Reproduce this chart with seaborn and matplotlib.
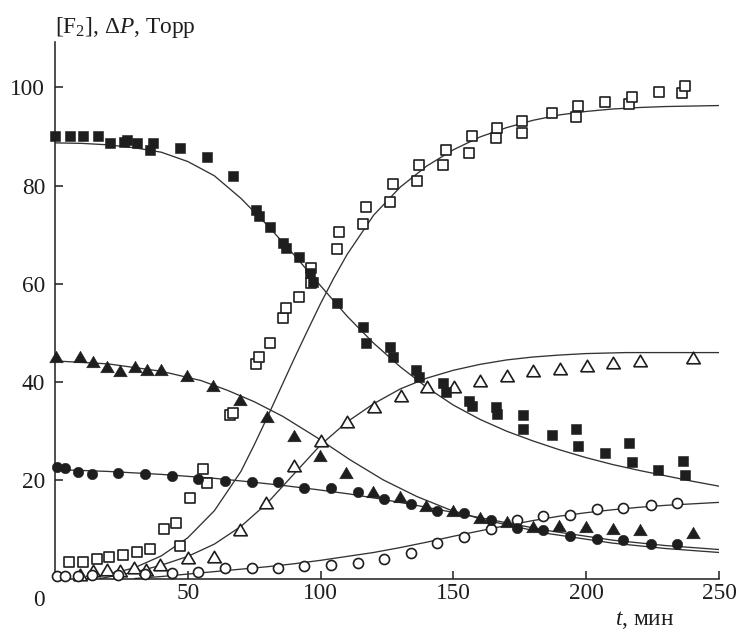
import numpy as np
import pandas as pd
import matplotlib
matplotlib.use("Agg")
import matplotlib.pyplot as plt
import seaborn as sns

# ---------------- data ----------------
# filled squares: [F2]
sqf_t = [0, 5.5, 10.4, 16.1, 20.6, 25.9, 27.0, 30.8, 35.7, 36.8, 47.0, 57.1, 66.9, 75.6, 76.7,
         80.9, 85.8, 86.9, 91.8, 95.9, 97.1, 106.1, 115.9, 117.0, 126.1, 127.2, 135.9, 137.0, 146.0, 147.1,
         155.8, 156.9, 166.0, 166.4, 176.2, 176.2, 187.1, 196.3, 196.9, 207.1, 216.1, 217.2, 227.0, 236.4, 237.2]
sqf_y = [90.1, 90.1, 90.1, 90.1, 88.7, 88.9, 89.3, 88.7, 87.3, 88.7, 87.7, 85.9, 82.0, 75.1, 73.9,
         71.6, 68.4, 67.3, 65.5, 62.3, 60.4, 56.1, 51.3, 48.0, 47.2, 45.0, 42.5, 41.1, 39.9, 38.0,
         36.2, 35.2, 35.0, 33.4, 33.2, 30.5, 29.3, 30.5, 26.9, 25.6, 27.5, 23.8, 22.0, 23.9, 21.0]

# open squares: dP
sqo_t = [5.2, 10.4, 15.7, 20.2, 25.5, 30.8, 35.7, 40.9, 45.5, 47.0, 50.8, 55.6, 57.1, 65.8, 66.9,
         75.6, 76.7, 80.9, 85.8, 87.0, 91.8, 96.3, 96.3, 106.1, 106.9, 115.9, 117.0, 126.1, 127.2, 136.2,
         137.0, 146.0, 147.1, 155.8, 156.9, 166.0, 166.4, 175.8, 175.8, 187.1, 196.1, 196.9, 207.1, 216.1, 217.2,
         227.4, 236.1, 237.2]
sqo_y = [3.3, 3.3, 3.9, 4.3, 4.7, 5.3, 6.1, 10.0, 11.4, 6.7, 16.3, 22.2, 19.5, 33.2, 33.6,
         43.7, 45.2, 48.0, 53.1, 55.1, 57.3, 63.3, 60.2, 67.1, 70.6, 72.2, 75.7, 76.7, 80.4, 81.0,
         84.2, 84.2, 87.3, 86.7, 90.1, 89.7, 91.8, 93.2, 90.7, 94.8, 94.0, 96.2, 97.0, 96.6, 98.1,
         99.1, 98.9, 100.3]

# filled triangles
trf_t = [0.5, 9.6, 14.3, 19.6, 24.6, 30.0, 34.7, 39.8, 49.7, 59.5, 69.8, 79.8, 89.9, 99.7,
         109.7, 119.8, 129.8, 139.6, 149.7, 160.0, 170.0, 179.8, 189.8, 199.9, 210.2, 220.2, 240.3]
trf_y = [45.1, 45.1, 44.0, 43.1, 42.2, 43.1, 42.4, 42.4, 41.3, 39.1, 36.4, 32.9, 29.0, 25.0,
         21.4, 17.6, 16.5, 14.7, 13.7, 12.3, 11.5, 10.5, 10.6, 10.5, 10.1, 9.8, 9.3]

# open triangles
tro_t = [9.4, 14.3, 19.6, 24.4, 29.6, 34.4, 39.4, 50.1, 59.9, 69.8, 79.6, 89.9, 100.0, 110.0,
         120.0, 130.1, 139.9, 150.2, 160.0, 170.0, 180.0, 190.1, 200.2, 210.2, 220.2, 240.3]
tro_y = [0.8, 1.5, 1.8, 1.5, 2.2, 1.8, 2.8, 4.2, 4.3, 9.8, 15.4, 23.0, 27.9, 31.8,
         34.9, 37.2, 39.0, 39.0, 40.3, 41.2, 42.2, 42.7, 43.3, 43.9, 44.2, 44.9]

# filled circles
cif_t = [0.6, 3.7, 8.5, 13.8, 23.6, 33.8, 43.9, 53.8, 63.9, 74.0, 84.0, 93.8, 103.8, 113.9,
         123.9, 134.0, 144.0, 154.0, 164.0, 173.8, 183.9, 193.9, 203.9, 213.9, 224.3, 234.3]
cif_y = [22.8, 22.4, 21.6, 21.2, 21.4, 21.2, 20.8, 20.3, 19.9, 19.6, 19.6, 18.5, 18.5, 17.6,
         16.1, 15.1, 13.8, 13.4, 12.0, 10.2, 9.8, 8.7, 8.1, 7.8, 7.1, 7.1]

# open circles
cio_t = [0.6, 3.7, 8.5, 13.8, 23.6, 33.8, 43.9, 53.8, 63.9, 74.0, 84.0, 93.8, 103.8, 113.9,
         123.9, 134.0, 144.0, 154.0, 164.0, 173.8, 183.9, 193.9, 203.9, 213.9, 224.3, 234.3]
cio_y = [0.5, 0.5, 0.6, 0.8, 0.8, 1.0, 1.2, 1.3, 2.2, 2.2, 2.2, 2.5, 2.7, 3.1,
         4.0, 5.1, 7.3, 8.4, 10.0, 11.9, 12.7, 13.0, 14.2, 14.4, 14.9, 15.3]

# model curves
cv_sqf_t = [0, 10, 20, 30, 40, 50, 60, 70, 80, 90, 100, 110, 120, 130, 140, 150, 160, 170,
            180, 190, 200, 210, 220, 230, 240, 250]
cv_sqf_y = [88.7, 88.6, 88.3, 87.7, 86.8, 84.9, 82.0, 77.4, 71.9, 65.9, 59.6, 53.4, 47.9, 43.1,
            38.9, 35.3, 32.4, 30.0, 28.0, 26.2, 24.6, 23.2, 22.0, 20.9, 19.8, 18.8]

cv_sqo_t = [12, 20, 30, 40, 50, 60, 70, 75, 80, 85, 90, 95, 100, 105, 110, 120, 130, 140, 150,
            160, 170, 180, 190, 200, 210, 220, 230, 240, 250]
cv_sqo_y = [0, 0.8, 2.2, 4.6, 8.3, 13.8, 21.8, 27.2, 32.9, 38.8, 44.7, 50.4, 56.0, 61.2, 66.0,
            74.0, 79.7, 84.0, 87.3, 89.9, 91.8, 93.3, 94.4, 95.1, 95.6, 95.9, 96.1, 96.2, 96.3]

cv_trf_t = [0, 20, 40, 55, 65, 75, 85.8, 98.6, 111, 123.5, 136.2, 148.6, 161, 185, 210, 230, 250]
cv_trf_y = [44.3, 43.7, 42.2, 40.3, 38.3, 36.0, 33.0, 28.7, 24.2, 20.1, 16.7, 14.0, 12.0, 9.2, 7.2, 6.1, 5.3]

cv_tro_t = [17, 30, 40, 50, 60, 70, 80, 90, 100, 110, 120, 130, 140, 150, 160, 170, 180, 190,
            200, 215, 250]
cv_tro_y = [0, 1.3, 2.7, 4.5, 7.0, 10.6, 15.4, 21.3, 27.2, 31.9, 35.6, 38.6, 40.8, 42.4, 43.6,
            44.5, 45.1, 45.5, 45.8, 46.0, 46.0]

cv_cif_t = [0, 20, 40, 60, 73, 85, 98.6, 111, 123.5, 136, 148.6, 163.7, 185, 210, 230, 250]
cv_cif_y = [22.2, 21.8, 21.2, 20.4, 19.7, 19.0, 18.1, 17.2, 16.1, 14.9, 13.6, 12.0, 9.8, 7.8, 6.7, 5.9]

cv_cio_t = [30, 40, 50, 60, 70, 80, 90, 100, 110, 120, 130, 140, 150, 160, 170, 180, 190, 200,
            210, 220, 230, 240, 250]
cv_cio_y = [0, 0.4, 0.9, 1.4, 1.9, 2.4, 3.0, 3.7, 4.5, 5.3, 6.3, 7.4, 8.6, 9.7, 10.8, 11.8, 12.7,
            13.4, 14.0, 14.5, 14.9, 15.2, 15.5]

x_ticks = [50, 100, 150, 200, 250]
y_ticks = [20, 40, 60, 80, 100]

# ---------------- style ----------------
sns.set_theme(style="ticks")
plt.rcParams["font.family"] = ["Liberation Serif", "DejaVu Serif"]
plt.rcParams["mathtext.fontset"] = "custom"
plt.rcParams["mathtext.rm"] = "Liberation Serif"
plt.rcParams["mathtext.it"] = "Liberation Serif:italic"

INK = "#1e1e1e"
LINE = "#333333"
FS = 16.8

W, H = 739, 630
fig = plt.figure(figsize=(W / 100, H / 100), dpi=100)
ax = fig.add_axes([55 / W, (H - 578.5) / H, (719 - 55) / W, (578.5 - 41.7) / H])

# curves
for ct, cy in [(cv_sqf_t, cv_sqf_y), (cv_sqo_t, cv_sqo_y), (cv_trf_t, cv_trf_y),
               (cv_tro_t, cv_tro_y), (cv_cif_t, cv_cif_y), (cv_cio_t, cv_cio_y)]:
    sns.lineplot(x=ct, y=cy, ax=ax, color=LINE, linewidth=0.95, estimator=None,
                 sort=False, legend=False, zorder=2)

tri = np.array([[-1.0, -0.78], [1.0, -0.78], [0.0, 0.92], [-1.0, -0.78]])

def pts(t, y, marker, s, filled):
    df = pd.DataFrame({"t": t, "v": y})
    if filled:
        sns.scatterplot(data=df, x="t", y="v", ax=ax, marker=marker, s=s, color=INK,
                        edgecolor=INK, linewidth=0.4, legend=False, zorder=4, clip_on=False)
    else:
        sns.scatterplot(data=df, x="t", y="v", ax=ax, marker=marker, s=s, color="white",
                        edgecolor=INK, linewidth=1.2, legend=False, zorder=3, clip_on=False)

pts(sqo_t, sqo_y, "s", 50, False)
pts(tro_t, tro_y, tri, 95, False)
pts(cio_t, cio_y, "o", 52, False)
pts(sqf_t, sqf_y, "s", 50, True)
pts(trf_t, trf_y, tri, 95, True)
pts(cif_t, cif_y, "o", 56, True)

ax.set_xlim(0, 250)
ax.set_ylim(0, 109.3)
ax.set_xticks(x_ticks)
ax.set_yticks(y_ticks)
ax.set_xlabel("")
ax.set_ylabel("")
sns.despine(ax=ax)
for sp in ["left", "bottom"]:
    ax.spines[sp].set_linewidth(1.1)
    ax.spines[sp].set_color(INK)
ax.tick_params(direction="in", length=6, width=1.1, colors=INK, labelsize=FS, labelcolor=INK)
ax.tick_params(axis="x", pad=3)
ax.tick_params(axis="y", pad=7)

fig.text(39.3 / W, 1 - 606.5 / H, "0", ha="center", va="baseline", fontsize=FS, color=INK)
fig.text(615 / W, 1 - 625 / H, "$t$, мин", ha="left", va="baseline", fontsize=FS, color=INK)
fig.text(55 / W, 1 - 33 / H, "[F$_2$], Δ$P$, Торр", ha="left", va="baseline", fontsize=FS, color=INK)

fig.savefig("out.png", dpi=100)
